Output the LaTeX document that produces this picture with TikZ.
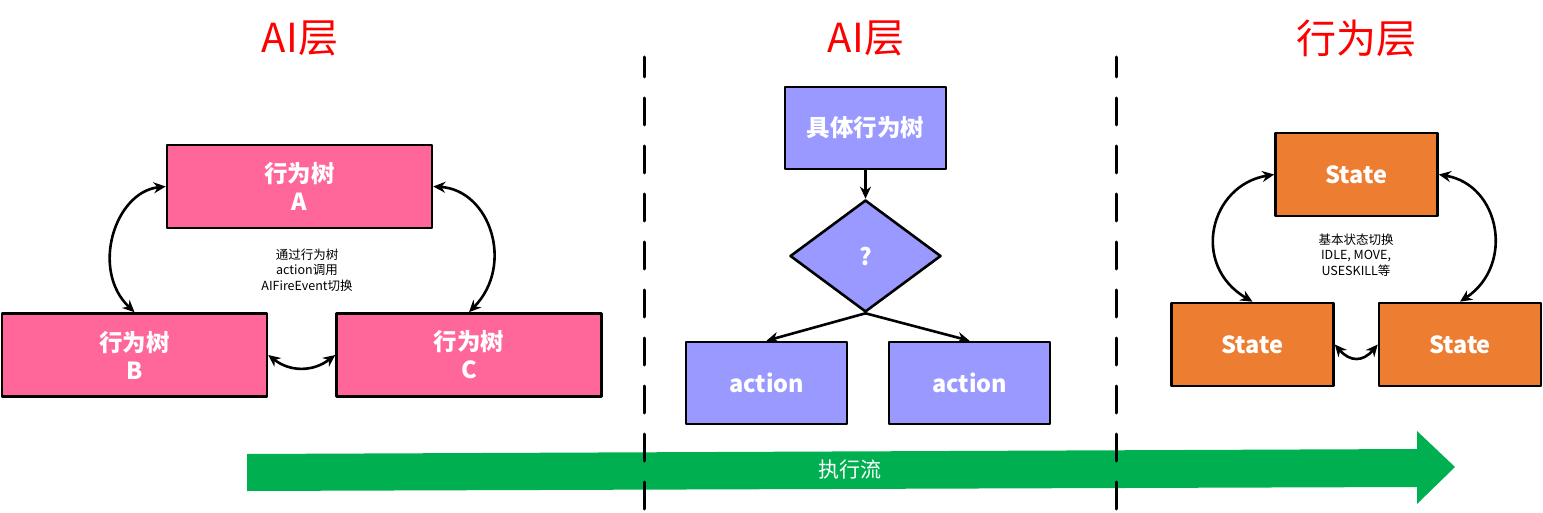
\documentclass[tikz,border=0pt]{standalone}
\usepackage{fontspec}
\setmainfont{Noto Sans CJK SC}
\usetikzlibrary{shapes.geometric,arrows.meta}
\definecolor{treepink}{HTML}{FF6699}
\definecolor{flowblue}{HTML}{9999FF}
\definecolor{stateorange}{HTML}{ED7D31}
\definecolor{flowgreen}{HTML}{00B050}
\begin{document}
\begin{tikzpicture}[x=1pt, y=-1pt, line join=round, line cap=round, >={Stealth[length=12pt,width=11pt]},
		layertitle/.style={text=red, font=\fontsize{40}{40}\selectfont},
		box/.style={draw=black, line width=2.6pt, text=white, align=center, inner sep=0pt, font=\bfseries\fontsize{23.5}{28}\selectfont},
		treebox/.style={box, fill=treepink, minimum width=265pt, minimum height=83pt},
		flowbox/.style={box, fill=flowblue, minimum width=161pt, minimum height=82pt},
		statebox/.style={box, fill=stateorange, minimum width=162pt, minimum height=83pt},
		note/.style={font=\fontsize{12.5}{15.5}\selectfont, align=center},
		link/.style={<->, line width=2.6pt},
		divider/.style={line width=3pt, dash pattern=on 27pt off 21pt, dash phase=7pt}]
	\useasboundingbox (0,0) rectangle (1543,513);
	\node[layertitle] (t1) at (300,38) {AI层};
	\node[layertitle] (t2) at (866,38) {AI层};
	\node[layertitle] (t3) at (1356,38) {行为层};
	\node[treebox] (ta) at (299.5,186.5) {行为树\\A};
	\node[treebox] (tb) at (134.5,355) {行为树\\B};
	\node[treebox] (tc) at (469,355) {行为树\\C};
	\node[note] (n1) at (307,270) {通过行为树\\action调用\\AIFireEvent切换};
	\draw[link] (ta.west) .. controls (115,192) and (90,270) .. (tb.north);
	\draw[link] (ta.east) .. controls (490,190) and (515,265) .. (tc.north);
	\draw[link] (tb.east) .. controls (290,372) and (313,372) .. (tc.west);
	\node[flowbox] (bt) at (865.5,128) {具体行为树};
	\node[box, diamond, fill=flowblue, minimum width=151pt, minimum height=112pt] (q) at (865.5,256) {?};
	\node[flowbox] (a1) at (766.5,383) {action};
	\node[flowbox] (a2) at (969.5,383) {action};
	\draw[->, line width=2.6pt] (bt) -- (q);
	\draw[->, line width=2.6pt] (q.south) -- (a1.north);
	\draw[->, line width=2.6pt] (q.south) -- (a2.north);
	\node[statebox] (s1) at (1356.5,174.5) {State};
	\node[statebox] (s2) at (1252.5,344.5) {State};
	\node[statebox] (s3) at (1460,344.5) {State};
	\node[note] (n2) at (1356,255) {基本状态切换\\IDLE, MOVE,\\USESKILL等};
	\draw[link] (s1.west) .. controls (1210,185) and (1190,265) .. (s2.north);
	\draw[link] (s1.east) .. controls (1500,185) and (1515,265) .. (s3.north);
	\draw[link] (s2.east) .. controls (1350,362) and (1363,362) .. (s3.west);
	\fill[flowgreen] (247,454) -- (1417,449) -- (1417,431) -- (1455,467) -- (1417,504) -- (1417,487) -- (247,491) -- cycle;
	\node[text=white, font=\fontsize{21}{21}\selectfont] (flow) at (850,470) {执行流};
	\draw[divider] (644,57) -- (644,513);
	\draw[divider] (1116,57) -- (1116,513);
\end{tikzpicture}
\end{document}
